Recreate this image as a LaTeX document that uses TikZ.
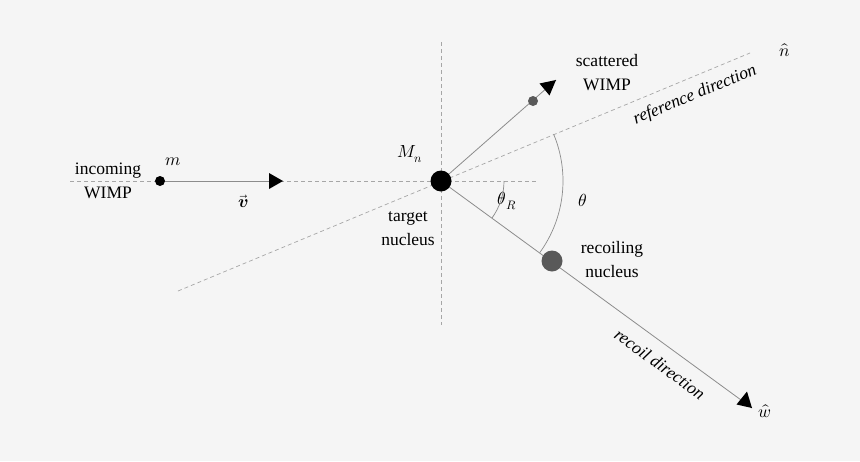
\documentclass[tikz,border=0pt]{standalone}
\usepackage{fontspec}
\setmainfont{Liberation Serif}
\usepackage{unicode-math}
\setmathfont{Latin Modern Math}
\usetikzlibrary{calc}
\begin{document}
\begin{tikzpicture}[x=1pt,y=-1pt,
  dsh/.style={draw=gray!70,dashed,dash pattern=on 4pt off 3pt,line width=0.7pt},
  ln/.style={draw=gray!90,line width=0.8pt},
  tip/.style={fill=black,draw=none},
  lbl/.style={font=\fontsize{17.5}{24}\selectfont,align=center,inner sep=1pt},
  ang/.style={draw=gray!90,line width=0.7pt}]
\fill[gray!8] (0,0) rectangle (860,461);
\useasboundingbox (0,0) rectangle (860,461);
\coordinate (N) at (441,181);
\coordinate (hl) at (70,181);
\coordinate (hr) at (537,181);
\coordinate (vt) at (441,42);
\coordinate (vb) at (441,325);
\coordinate (r1) at (178,291);
\coordinate (r2) at (750,53);
\draw[dsh] (hl) -- (hr);
\draw[dsh] (vt) -- (vb);
\draw[dsh] (r1) -- (r2);
% incoming
\coordinate (vtip) at (283,181);
\node[circle,fill=black,inner sep=0,minimum size=10pt] (m) at (160,181) {};
\draw[ln] (m) -- (vtip);
\fill[tip] (vtip) -- ++(-14,-8) -- ++(0,16) -- cycle;
% scattered
\coordinate (stip) at (556,80);
\draw[ln] (N) -- (stip);
\fill[tip] (stip) -- ++(-6.5,15.5) -- ++(-10,-12) -- cycle;
\node[circle,fill=gray!70!black,inner sep=0,minimum size=10pt] (sw) at (533,101) {};
% recoil
\coordinate (wtip) at (752,408);
\draw[ln] (N) -- (wtip);
\fill[tip] (wtip) -- ++(-5,-16.5) -- ++(-10.5,13) -- cycle;
\node[circle,fill=black!65,inner sep=0,minimum size=21pt] (rn) at (552,261) {};
\node[circle,fill=black,inner sep=0,minimum size=21pt] (nuc) at (N) {};
% angles
\draw[ang] ($(N)+(63,0)$) arc[start angle=0,end angle=36,radius=63];
\draw[ang] ($(N)+(-22.6:122)$) arc[start angle=-22.6,end angle=36,radius=122];
% labels
\node[lbl] at (507,201) {$\theta_{R}$};
\node[lbl] at (583,200) {$\theta$};
\node[lbl] at (410,154) {$M_n$};
\node[lbl] at (173,162) {$m$};
\node[lbl] at (108,181) {incoming\\WIMP};
\node[lbl] at (243,201) {$\vec{\symbfit{v}}$};
\node[lbl] at (408,229) {target\\nucleus};
\node[lbl] at (607,73) {scattered\\WIMP};
\node[lbl] at (612,260) {recoiling\\nucleus};
\node[lbl] at (785,50) {$\hat{n}$};
\node[lbl] at (765,411) {$\hat{w}$};
\node[lbl,rotate=22.6] at (695,95) {\itshape reference direction};
\node[lbl,rotate=-36] at (660,364) {\itshape recoil direction};
\end{tikzpicture}
\end{document}
